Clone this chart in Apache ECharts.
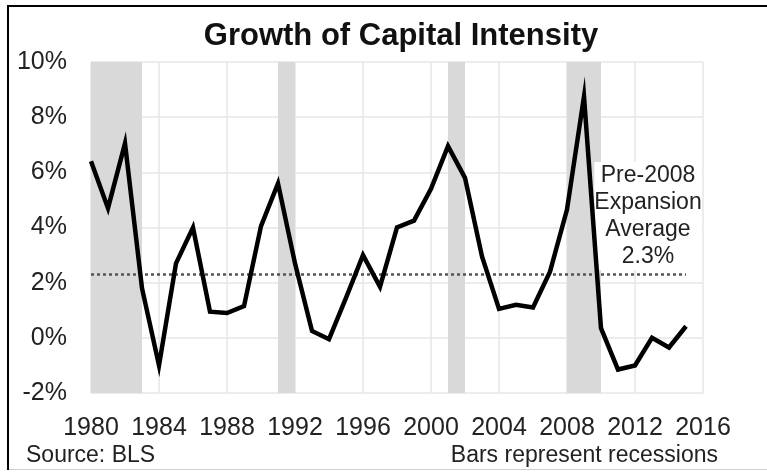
<!DOCTYPE html>
<html>
<head>
<meta charset="utf-8">
<script src="https://cdn.jsdelivr.net/npm/echarts@6/dist/echarts.min.js"></script>
<style>
html, body { margin: 0; padding: 0; background: #fff; }
#main { width: 767px; height: 472px; }
</style>
</head>
<body>
<div id="main"></div>
<script>
// yearly growth of capital intensity, percent
var years = [1980, 1981, 1982, 1983, 1984, 1985, 1986, 1987, 1988, 1989,
    1990, 1991, 1992, 1993, 1994, 1995, 1996, 1997, 1998, 1999,
    2000, 2001, 2002, 2003, 2004, 2005, 2006, 2007, 2008, 2009,
    2010, 2011, 2012, 2013, 2014, 2015];
var growth = [6.4, 4.7, 7.05, 1.8, -1.0, 2.7, 4.0, 0.95, 0.9, 1.15,
    4.05, 5.6, 2.7, 0.25, -0.05, 1.45, 3.0, 1.85, 4.0, 4.25,
    5.4, 6.95, 5.8, 2.95, 1.05, 1.2, 1.1, 2.4, 4.65, 8.75,
    0.35, -1.15, -1.0, 0.0, -0.35, 0.42];

// recession bars
var recessionStart = [1980, 1991, 2001, 2008];
var recessionEnd = [1983, 1992, 2002, 2010];

// pre-2008 expansion average
var avgValue = 2.3;
var avgFrom = 1980;
var avgTo = 2015;
var avgNote = ['Pre-2008', 'Expansion', 'Average', '2.3%'];

var font = 'Arial, "Liberation Sans", sans-serif';

var lineData = [];
for (var i = 0; i < years.length; i++) {
    lineData.push([years[i], growth[i]]);
}
var areas = [];
for (var j = 0; j < recessionStart.length; j++) {
    areas.push([{ xAxis: recessionStart[j] }, { xAxis: recessionEnd[j] }]);
}

var chart = echarts.init(document.getElementById('main'));
chart.setOption({
    animation: false,
    backgroundColor: '#fff',
    title: {
        text: 'Growth of Capital Intensity',
        left: 396,
        textAlign: 'center',
        top: 16,
        textStyle: { fontFamily: font, fontSize: 31, fontWeight: 'bold', color: '#111' }
    },
    grid: { left: 91, right: 64, top: 62, bottom: 79 },
    xAxis: {
        type: 'value',
        min: 1980,
        max: 2016,
        interval: 4,
        axisLine: { show: false },
        axisTick: { show: false },
        axisLabel: {
            fontFamily: font, fontSize: 25, color: '#222', margin: 23,
            formatter: function (v) { return String(v); }
        },
        splitLine: { show: true, lineStyle: { color: '#e6e6e6', width: 1.5 } }
    },
    yAxis: {
        type: 'value',
        min: -2,
        max: 10,
        interval: 2,
        axisLine: { show: false },
        axisTick: { show: false },
        axisLabel: { fontFamily: font, fontSize: 25, color: '#222', margin: 24, formatter: '{value}%' },
        splitLine: { show: true, lineStyle: { color: '#e6e6e6', width: 1.5 } }
    },
    series: [
        {
            name: 'recessions',
            type: 'line',
            data: [],
            markArea: {
                silent: true,
                itemStyle: { color: '#d9d9d9' },
                data: areas
            }
        },
        {
            name: 'average',
            type: 'line',
            symbol: 'none',
            silent: true,
            data: [[avgFrom, avgValue], [avgTo, avgValue]],
            lineStyle: { color: '#555', width: 2.5, type: [3, 3] }
        },
        {
            name: 'growth',
            type: 'line',
            symbol: 'none',
            z: 5,
            data: lineData,
            lineStyle: { color: '#000', width: 4.5, join: 'miter' }
        }
    ],
    graphic: [
        {
            type: 'polyline',
            shape: { points: [[8, 470], [8, 6], [767, 6]] },
            style: { fill: 'none', stroke: '#000', lineWidth: 2 },
            silent: true
        },
        {
            type: 'line',
            shape: { x1: 9, y1: 469.5, x2: 767, y2: 469.5 },
            style: { stroke: '#cfcfcf', lineWidth: 1 },
            silent: true
        },
        {
            type: 'text',
            x: 648,
            y: 162,
            z: 3,
            style: {
                text: avgNote.join('\n'),
                textAlign: 'center',
                font: '23px ' + font,
                lineHeight: 27,
                fill: '#222',
                backgroundColor: '#fff'
            }
        },
        {
            type: 'text',
            x: 26,
            y: 444,
            style: { text: 'Source: BLS', font: '23px ' + font, fill: '#222' }
        },
        {
            type: 'text',
            x: 718,
            y: 444,
            style: { text: 'Bars represent recessions', textAlign: 'right', font: '23px ' + font, fill: '#222' }
        }
    ]
});
</script>
</body>
</html>
